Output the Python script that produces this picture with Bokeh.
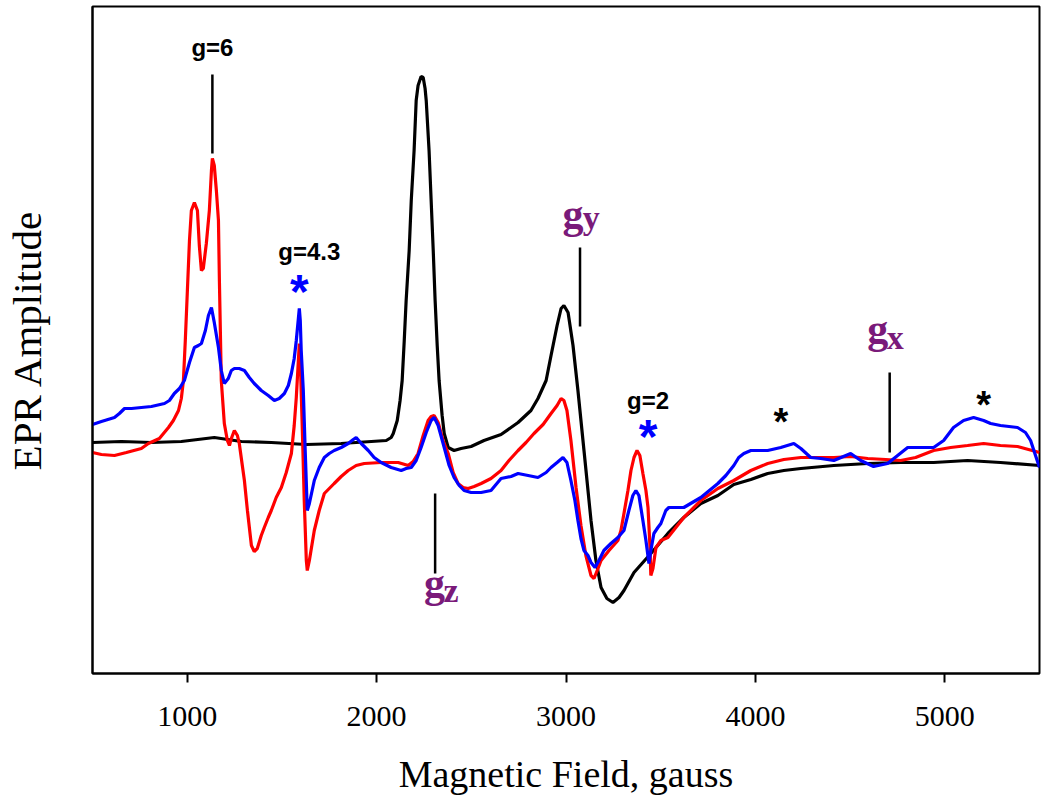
from bokeh.plotting import figure
from bokeh.models import Range1d, FixedTicker
from bokeh.core.properties import value
from bokeh.embed import file_html
from bokeh.resources import INLINE

# ---------------- data (field in gauss, amplitude in arbitrary units) ----------------
black_field = [500, 653, 811, 969, 1143, 1286, 1444, 1629, 1813, 1972, 2051, 2077, 2088, 2109, 2124,
               2135, 2146, 2156, 2172, 2183, 2198, 2209, 2219, 2235, 2246, 2256, 2262, 2277, 2288,
               2299, 2309, 2320, 2330, 2346, 2357, 2378, 2409, 2446, 2499, 2567, 2657, 2747, 2815,
               2852, 2895, 2921, 2953, 2974, 2989, 3011, 3037, 3063, 3095, 3132, 3158, 3185, 3216,
               3248, 3280, 3306, 3359, 3448, 3538, 3622, 3712, 3802, 3886, 3976, 4065, 4150, 4240,
               4414, 4593, 4767, 4941, 5120, 5294, 5500]
black_amp = [0, 1, 0, 1, 5, 1, 0, -2, -1, 1, 2, 5, 9, 22, 42,
             62, 102, 142, 192, 242, 292, 342, 357, 366, 365, 354, 342, 292, 242,
             192, 142, 97, 62, 27, 9, -5, -8, -6, -4, 2, 8, 20, 32,
             44, 62, 87, 117, 134, 137, 130, 97, 52, -8, -78, -118, -145, -156,
             -160, -155, -148, -130, -111, -91, -75, -61, -53, -42, -37, -31, -28, -26,
             -23, -21, -20, -20, -18, -20, -23]

red_field = [500, 547, 616, 679, 758, 795, 853, 901, 927, 954, 969, 980, 990, 1001, 1012, 1022,
             1038, 1054, 1064, 1075, 1085, 1101, 1117, 1128, 1133, 1143, 1154, 1165, 1170, 1180,
             1196, 1212, 1223, 1233, 1249, 1265, 1275, 1291, 1302, 1318, 1339, 1354, 1370, 1391,
             1407, 1428, 1444, 1470, 1497, 1523, 1550, 1565, 1576, 1587, 1592, 1597, 1608, 1618,
             1629, 1634, 1645, 1671, 1697, 1724, 1750, 1776, 1813, 1850, 1892, 1935, 2024, 2114,
             2167, 2193, 2219, 2246, 2272, 2288, 2304, 2325, 2351, 2378, 2404, 2430, 2457, 2483,
             2515, 2552, 2604, 2657, 2699, 2747, 2789, 2831, 2879, 2921, 2953, 2974, 2989, 3005,
             3026, 3053, 3079, 3105, 3132, 3148, 3169, 3185, 3227, 3274, 3290, 3306, 3327, 3343,
             3359, 3375, 3390, 3406, 3422, 3433, 3443, 3448, 3459, 3475, 3501, 3538, 3580, 3622,
             3712, 3802, 3886, 3976, 4065, 4150, 4240, 4329, 4414, 4503, 4593, 4688, 4767, 4846,
             4941, 5031, 5120, 5205, 5294, 5384, 5500]
red_amp = [-10, -12, -13, -10, -6, -1, 4, 15, 22, 32, 44, 62, 102, 152, 202, 232,
           240, 232, 197, 172, 174, 199, 232, 272, 284, 277, 252, 222, 162, 62,
           19, 2, -3, 4, 12, 7, -1, -23, -38, -68, -103, -109, -106, -93,
           -85, -75, -68, -55, -45, -30, -11, 17, 45, 82, 99, 82, 12, -58,
           -118, -128, -118, -88, -68, -51, -46, -41, -34, -28, -23, -21, -20, -20,
           -23, -19, -11, 7, 22, 26, 27, 20, 2, -11, -30, -41, -45, -46,
           -44, -41, -36, -28, -18, -8, 0, 9, 18, 29, 37, 44, 42, 32,
           2, -45, -83, -113, -133, -136, -126, -118, -108, -98, -88, -71, -48, -28,
           -15, -8, -13, -31, -48, -65, -103, -133, -126, -105, -98, -95, -85, -75,
           -58, -46, -38, -28, -21, -17, -15, -15, -15, -14, -16, -17, -18, -15,
           -8, -5, -3, -1, -3, -4, -10]

blue_field = [500, 547, 616, 642, 669, 706, 758, 811, 880, 906, 932, 959, 985, 1012, 1038, 1059,
              1075, 1096, 1112, 1128, 1143, 1165, 1180, 1196, 1217, 1233, 1249, 1275, 1302, 1328,
              1354, 1391, 1428, 1460, 1486, 1513, 1534, 1550, 1565, 1576, 1587, 1592, 1597, 1602,
              1613, 1623, 1634, 1645, 1671, 1697, 1724, 1750, 1776, 1813, 1850, 1877, 1892, 1919,
              1956, 1987, 2024, 2077, 2130, 2156, 2183, 2209, 2235, 2262, 2288, 2304, 2325, 2357,
              2383, 2409, 2436, 2462, 2499, 2552, 2604, 2657, 2710, 2747, 2800, 2852, 2895, 2921,
              2953, 2984, 3005, 3026, 3047, 3063, 3079, 3095, 3116, 3132, 3153, 3174, 3200, 3237,
              3274, 3306, 3332, 3353, 3369, 3385, 3406, 3422, 3438, 3448, 3464, 3485, 3501, 3527,
              3543, 3580, 3622, 3712, 3802, 3844, 3886, 3912, 3939, 3976, 4065, 4134, 4203, 4240,
              4292, 4345, 4414, 4503, 4556, 4624, 4698, 4751, 4804, 4872, 4941, 4994, 5046, 5099,
              5152, 5205, 5242, 5294, 5384, 5426, 5453, 5479, 5500]
blue_amp = [18, 21, 25, 29, 34, 34, 35, 36, 39, 42, 49, 54, 62, 80, 95, 97,
            99, 112, 127, 135, 120, 95, 72, 59, 64, 72, 74, 74, 72, 65,
            59, 52, 47, 42, 44, 49, 57, 69, 84, 102, 124, 134, 122, 92,
            52, -8, -68, -61, -38, -25, -15, -11, -8, -5, -1, 3, 5, -1,
            -8, -15, -20, -25, -28, -26, -25, -18, -5, 10, 22, 25, 17, -5,
            -23, -35, -43, -48, -50, -50, -48, -36, -34, -31, -33, -35, -30, -25,
            -20, -15, -20, -38, -58, -78, -96, -108, -113, -120, -125, -118, -108, -101,
            -95, -88, -68, -53, -48, -53, -78, -98, -121, -108, -91, -85, -81, -68,
            -65, -65, -65, -55, -41, -33, -23, -15, -11, -8, -8, -5, -1, -6,
            -15, -16, -18, -11, -18, -24, -21, -13, -5, -5, -5, 2, 15, 22,
            25, 22, 19, 17, 15, 10, 2, -13, -25]

tick_values = [1000, 2000, 3000, 4000, 5000]

# annotation marker lines (field, top amplitude, bottom amplitude)
mark_field = [1133, 3074, 2309, 4709]
mark_top = [368, 195, -51, 70]
mark_bottom = [289, 116, -131, -10]

# black bold labels
note_text = ["g=6", "g=4.3", "g=2"]
note_field = [1133, 1645, 3433]
note_amp = [385, 181, 32]

# purple g-tensor labels: main letter and subscript
g_field = [3037, 2306, 4646]
g_amp = [219, -150, 104]
sub_text = ["y", "z", "x"]
sub_field = [3133, 2393, 4738]
sub_amp = [215, -158, 95]

# asterisks
blue_star_field = [1592, 3433]
blue_star_amp = [157, 12]
black_star_field = [4134, 5205]
black_star_amp = [25, 42]

# ---------------- figure ----------------
p = figure(width=1048, height=807, output_backend="svg", toolbar_location=None,
           x_range=Range1d(500, 5500), y_range=Range1d(-231, 436),
           min_border_left=91, min_border_right=9, min_border_top=6, min_border_bottom=134)
p.grid.visible = False
p.outline_line_color = "black"
p.outline_line_width = 2
p.background_fill_color = "white"
p.border_fill_color = "white"

p.line(black_field, black_amp, color="black", line_width=3.2)
p.line(red_field, red_amp, color="#ff0000", line_width=3.2)
p.line(blue_field, blue_amp, color="#0000ff", line_width=3.2)

p.segment(x0=mark_field, y0=mark_top, x1=mark_field, y1=mark_bottom,
          line_color="black", line_width=2.5)

p.text(x=note_field, y=note_amp, text=note_text, text_align="center",
       text_baseline="alphabetic", y_offset=-10, text_font=value("Liberation Sans"),
       text_font_style="bold", text_font_size="24px", text_color="black")

purple = "#7a1a7a"
p.text(x=g_field, y=g_amp, text=["g", "g", "g"], text_align="center",
       text_baseline="alphabetic", y_offset=-10, text_font=value("Liberation Serif"),
       text_font_style="bold", text_font_size="42px", text_color=purple)
p.text(x=sub_field, y=sub_amp, text=sub_text, text_align="center",
       text_baseline="alphabetic", y_offset=-10, text_font=value("Liberation Serif"),
       text_font_style="bold", text_font_size="34px", text_color=purple)

p.text(x=blue_star_field, y=blue_star_amp, text=["*", "*"], text_align="center",
       text_baseline="alphabetic", y_offset=6, text_font=value("Liberation Sans"),
       text_font_style="bold", text_font_size="48px", text_color="#0000ff")
p.text(x=black_star_field, y=black_star_amp, text=["*", "*"], text_align="center",
       text_baseline="alphabetic", y_offset=4, text_font=value("Liberation Sans"),
       text_font_style="bold", text_font_size="38px", text_color="black")

xa = p.xaxis[0]
xa.ticker = FixedTicker(ticks=tick_values)
xa.minor_tick_line_color = None
xa.major_tick_in = 0
xa.major_tick_out = 9
xa.major_tick_line_width = 2
xa.axis_line_width = 2
xa.major_label_standoff = 24
xa.major_label_text_font = "Liberation Serif"
xa.major_label_text_font_size = "30px"
xa.major_label_text_color = "black"
xa.axis_label = "Magnetic Field, gauss"
xa.axis_label_text_font = "Liberation Serif"
xa.axis_label_text_font_size = "38px"
xa.axis_label_text_font_style = "normal"
xa.axis_label_text_color = "black"
xa.axis_label_standoff = 24

ya = p.yaxis[0]
ya.ticker = FixedTicker(ticks=[])
ya.minor_tick_line_color = None
ya.major_tick_in = 0
ya.major_tick_out = 0
ya.axis_line_width = 2
ya.axis_label = "EPR Amplitude"
ya.axis_label_text_font = "Liberation Serif"
ya.axis_label_text_font_size = "41px"
ya.axis_label_text_font_style = "normal"
ya.axis_label_text_color = "black"
ya.axis_label_standoff = 43

open("out.html", "w").write(file_html(p, INLINE))
